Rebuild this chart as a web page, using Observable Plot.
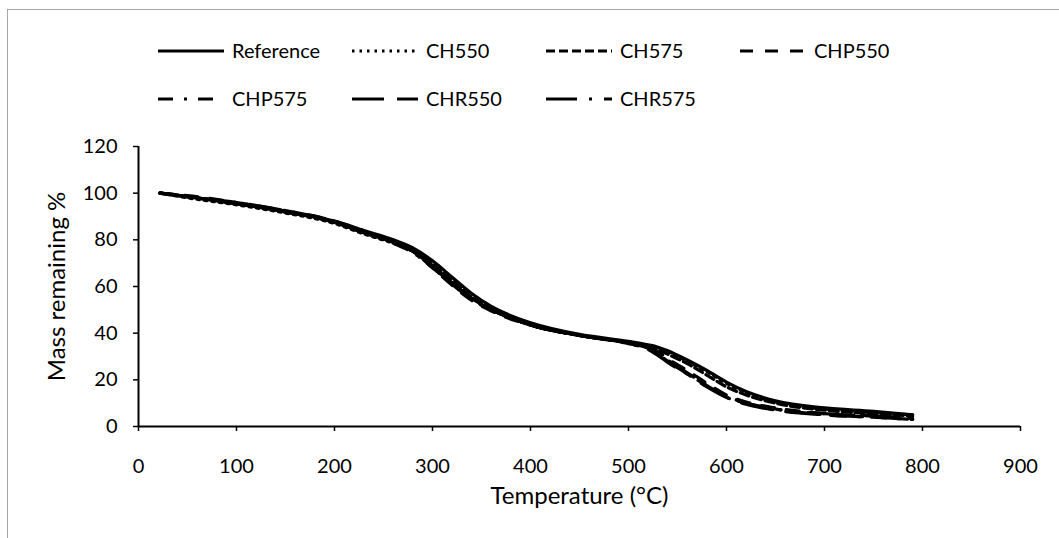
<!DOCTYPE html>
<html><head><meta charset="utf-8">
<script src="https://cdn.jsdelivr.net/npm/d3@7"></script>
<script src="https://cdn.jsdelivr.net/npm/@observablehq/plot@0.6"></script>
<style>
body{margin:0;background:#fff;}
#wrap{position:relative;width:1059px;height:538px;overflow:hidden;background:#fff;font-family:Lato,"Open Sans",sans-serif;}
#border{position:absolute;left:7px;top:9px;width:1100px;height:600px;border:1px solid #a6a6a6;box-sizing:border-box;}
#wrap svg{position:absolute;left:0;top:0;}
</style></head>
<body><div id="wrap"><div id="border"></div></div>
<script>
// Temperature (°C) sample points
const temps = [22, 50, 100, 150, 200, 230, 260, 280, 300, 320, 340, 360, 380, 400, 450, 500, 520, 530, 540, 560, 580, 600, 620, 650, 700, 750, 790];
// Mass remaining % per series
const reference = [100, 98.5, 95.5, 92, 88, 84, 80, 76.5, 71, 64, 57, 51.5, 47.5, 44.5, 39.5, 36.5, 35, 34, 32.5, 28.5, 24, 19, 15, 11, 8, 6.5, 5];
const ch550 = [100, 98, 95, 91.5, 87, 82.5, 78.5, 75, 68.5, 61.5, 55, 50, 46.5, 43.5, 39, 36, 34.5, 33.5, 32, 28, 23.5, 18.5, 14.5, 10.5, 7.5, 6, 5];
const ch575 = [100, 98.5, 95.5, 92, 87.5, 83, 79, 75.5, 69.5, 62.5, 55.5, 50.5, 46.5, 43.5, 39, 36, 34.5, 33, 31, 27, 22, 17, 13.5, 10, 7, 5.5, 4.5];
const chp550 = [100, 99, 96, 92.5, 88, 83.5, 79, 75, 68, 60.5, 54, 49.5, 46, 43.5, 39, 36, 34, 32, 29, 24, 18.5, 13.5, 10.5, 8, 5.5, 4.5, 3.5];
const chp575 = [100, 98.5, 95.5, 92, 87.5, 83, 78.5, 74.5, 68, 61, 54.5, 50, 46.5, 43.5, 39, 36, 34, 31.5, 28.5, 23, 17.5, 12.5, 10, 7.5, 5, 4, 3];
const chr550 = [100, 98.5, 96, 92.5, 88, 83.5, 79.5, 75.5, 69, 61.5, 55, 50, 46.5, 43.5, 39, 35.5, 33.5, 31, 28, 22.5, 17, 12.5, 9.5, 7, 5, 4, 3];
const chr575 = [100, 98.5, 95.5, 92, 87.5, 83, 79, 75, 68.5, 61, 54.5, 50, 46.5, 43.5, 39, 35.5, 33, 30.5, 27.5, 22.5, 17.5, 13, 10, 7.5, 5.5, 4.5, 3.5];
const seriesNames = ["Reference", "CH550", "CH575", "CHP550", "CHP575", "CHR550", "CHR575"];
const seriesValues = [reference, ch550, ch575, chp550, chp575, chr550, chr575];
const xTicks = [0, 100, 200, 300, 400, 500, 600, 700, 800, 900];
const yTicks = [0, 20, 40, 60, 80, 100, 120];

const dashStyles = {
  "Reference": null,
  "CH550": "2.5,5",
  "CH575": "9,4",
  "CHP550": "13,12",
  "CHP575": "15,11,3,11",
  "CHR550": "32,13",
  "CHR575": "31,12,3,12"
};

const rows = [];
seriesNames.forEach((s, i) => temps.forEach((t, j) => rows.push({series: s, T: t, M: seriesValues[i][j]})));

const font = "Lato, 'Open Sans', sans-serif";
const plot = Plot.plot({
  width: 1059, height: 538,
  marginLeft: 138, marginRight: 39, marginTop: 146, marginBottom: 112,
  x: {domain: [0, 900]},
  y: {domain: [0, 120]},
  style: {fontFamily: font, fontSize: "20px", color: "#000", background: "transparent", overflow: "visible"},
  marks: [
    Plot.axisX({ticks: xTicks, tickSize: 5, tickPadding: 27, label: null, stroke: "#000", strokeWidth: 1.5, fontSize: 20}),
    Plot.axisY({ticks: yTicks, tickSize: 5, tickPadding: 16, label: null, stroke: "#000", strokeWidth: 1.5, fontSize: 20}),
    Plot.ruleY([0], {stroke: "#000", strokeWidth: 2}),
    Plot.ruleX([0], {stroke: "#000", strokeWidth: 2}),
    ...seriesNames.map(s => Plot.line(rows.filter(d => d.series === s), {
      x: "T", y: "M", stroke: "#000", strokeWidth: 3.2,
      strokeDasharray: dashStyles[s] || undefined, curve: "monotone-x"
    })),
    Plot.text(["Temperature (°C)"], {text: d => d, frameAnchor: "bottom", textAnchor: "middle", lineAnchor: "middle", dy: 70, fontSize: 24, fill: "#000"}),
    Plot.text(["Mass remaining %"], {text: d => d, frameAnchor: "left", textAnchor: "middle", lineAnchor: "middle", dx: -81, rotate: -90, fontSize: 24, fill: "#000"})
  ]
});
document.getElementById("wrap").appendChild(plot);

// Legend
const leg = d3.select("#wrap").append("svg").attr("width", 1059).attr("height", 140)
  .style("font-family", font).style("font-size", "20px");
seriesNames.forEach((s, i) => {
  const col = i % 4, row = Math.floor(i / 4);
  const x0 = 158 + col * 194, y0 = 51 + row * 48;
  leg.append("line").attr("x1", x0).attr("x2", x0 + 66).attr("y1", y0).attr("y2", y0)
    .attr("stroke", "#000").attr("stroke-width", 3)
    .attr("stroke-dasharray", dashStyles[s]);
  leg.append("text").attr("x", x0 + 74).attr("y", y0).attr("dy", "0.35em").attr("fill", "#000").text(s);
});
</script>
</body></html>
